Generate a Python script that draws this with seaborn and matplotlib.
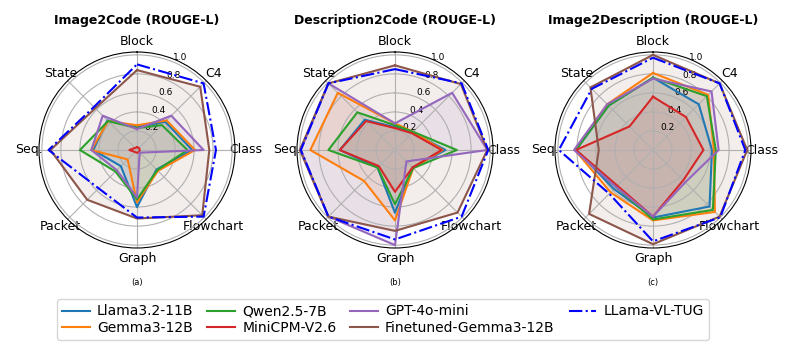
import numpy as np
import pandas as pd
import matplotlib
matplotlib.use("Agg")
import matplotlib.pyplot as plt
import seaborn as sns

# 数据
categories = ["Block", "C4", "Class", "Flowchart", "Graph", "Packet", "Seq.", "State"]
models = ["Llama3.2-11B", "Gemma3-12B", "Qwen2.5-7B", "MiniCPM-V2.6",
          "GPT-4o-mini", "Finetuned-Gemma3-12B", "LLama-VL-TUG"]
titles = ["Image2Code (ROUGE-L)", "Description2Code (ROUGE-L)", "Image2Description (ROUGE-L)"]
sub_labels = ["(a)", "(b)", "(c)"]

image2code = {
    "Llama3.2-11B":         [0.24, 0.42, 0.58, 0.29, 0.60, 0.24, 0.46, 0.44],
    "Gemma3-12B":           [0.26, 0.44, 0.61, 0.31, 0.55, 0.14, 0.48, 0.43],
    "Qwen2.5-7B":           [0.23, 0.37, 0.53, 0.30, 0.52, 0.32, 0.60, 0.43],
    "MiniCPM-V2.6":         [0.03, 0.03, 0.03, 0.03, 0.03, 0.03, 0.08, 0.03],
    "GPT-4o-mini":          [0.22, 0.51, 0.70, 0.04, 0.50, 0.30, 0.48, 0.51],
    "Finetuned-Gemma3-12B": [0.84, 0.94, 0.76, 0.97, 0.72, 0.74, 0.91, 0.62],
    "LLama-VL-TUG":         [0.90, 0.99, 0.83, 0.99, 0.71, 0.57, 0.93, 0.64],
}
description2code = {
    "Llama3.2-11B":         [0.24, 0.26, 0.53, 0.26, 0.66, 0.26, 0.58, 0.45],
    "Gemma3-12B":           [0.28, 0.27, 0.50, 0.27, 0.74, 0.46, 0.89, 0.85],
    "Qwen2.5-7B":           [0.26, 0.27, 0.65, 0.27, 0.57, 0.26, 0.70, 0.56],
    "MiniCPM-V2.6":         [0.23, 0.25, 0.49, 0.26, 0.44, 0.24, 0.58, 0.43],
    "GPT-4o-mini":          [0.28, 0.85, 0.97, 0.17, 1.00, 0.99, 0.99, 0.99],
    "Finetuned-Gemma3-12B": [0.89, 0.98, 0.97, 0.93, 0.85, 0.99, 1.00, 0.99],
    "LLama-VL-TUG":         [0.85, 0.99, 0.98, 0.99, 0.94, 0.99, 0.99, 0.99],
}
image2description = {
    "Llama3.2-11B":         [0.76, 0.68, 0.62, 0.84, 0.71, 0.58, 0.81, 0.66],
    "Gemma3-12B":           [0.81, 0.82, 0.64, 0.92, 0.74, 0.63, 0.82, 0.68],
    "Qwen2.5-7B":           [0.76, 0.80, 0.66, 0.89, 0.73, 0.55, 0.81, 0.66],
    "MiniCPM-V2.6":         [0.56, 0.49, 0.53, 0.45, 0.70, 0.53, 0.81, 0.35],
    "GPT-4o-mini":          [0.75, 0.87, 0.69, 0.48, 0.70, 0.55, 0.83, 0.68],
    "Finetuned-Gemma3-12B": [1.00, 0.99, 0.99, 0.99, 0.99, 0.95, 0.57, 0.93],
    "LLama-VL-TUG":         [0.97, 0.99, 0.97, 1.00, 0.96, 0.65, 0.99, 0.91],
}
panels = [image2code, description2code, image2description]

colors = {
    "Llama3.2-11B": "tab:blue",
    "Gemma3-12B": "tab:orange",
    "Qwen2.5-7B": "tab:green",
    "MiniCPM-V2.6": "tab:red",
    "GPT-4o-mini": "tab:purple",
    "Finetuned-Gemma3-12B": "tab:brown",
    "LLama-VL-TUG": "blue",
}

# 角度（顺时针，从顶部开始）
n = len(categories)
angles = np.linspace(0, 2 * np.pi, n, endpoint=False)
angles_closed = np.append(angles, angles[0] + 2 * np.pi)

fig = plt.figure(figsize=(7.93, 3.56), dpi=100)
centers_x = [137, 395, 653]
R = 98  # 极坐标轴半径（像素）
for k, (scores, title) in enumerate(zip(panels, titles)):
    cx = centers_x[k]
    ax = fig.add_axes([(cx - R) / 793, (356 - 150 - R) / 356, 2 * R / 793, 2 * R / 356], polar=True)
    ax.set_theta_offset(np.pi / 2)
    ax.set_theta_direction(-1)
    for m in models:
        vals = np.append(scores[m], scores[m][0])
        df = pd.DataFrame({"angle": angles_closed, "value": vals})
        ls = "-." if m == "LLama-VL-TUG" else "-"
        sns.lineplot(data=df, x="angle", y="value", ax=ax, sort=False, color=colors[m],
                     linestyle=ls, linewidth=1.5, label=m, legend=False)
        if m != "LLama-VL-TUG":
            ax.fill(angles_closed, vals, color=colors[m], alpha=0.1)
    ax.set_xticks(angles)
    ax.set_xticklabels(categories, fontsize=9)
    ax.tick_params(axis="x", pad=-3)
    ax.set_ylim(0, 1.03)
    ax.set_yticks([0.2, 0.4, 0.6, 0.8, 1.0])
    ax.set_yticklabels(["0.2", "0.4", "0.6", "0.8", "1.0"], fontsize=6.5)
    ax.set_xlabel("")
    ax.set_ylabel("")
    ax.grid(True, color="#b0b0b0", linewidth=0.8)
    ax.set_title(title, fontsize=9, fontweight="bold", pad=8)
    fig.text(cx / 793, (356 - 283) / 356, sub_labels[k], ha="center", va="center", fontsize=6)
    if k == 0:
        handles, labels = ax.get_legend_handles_labels()

fig.legend(handles, labels, loc="center", bbox_to_anchor=(383 / 793, 0.1025), ncol=4,
           fontsize=10, handlelength=2.0, handletextpad=0.5, columnspacing=1.0,
           borderpad=0.4, labelspacing=0.15)

fig.savefig("out.png", dpi=100)
